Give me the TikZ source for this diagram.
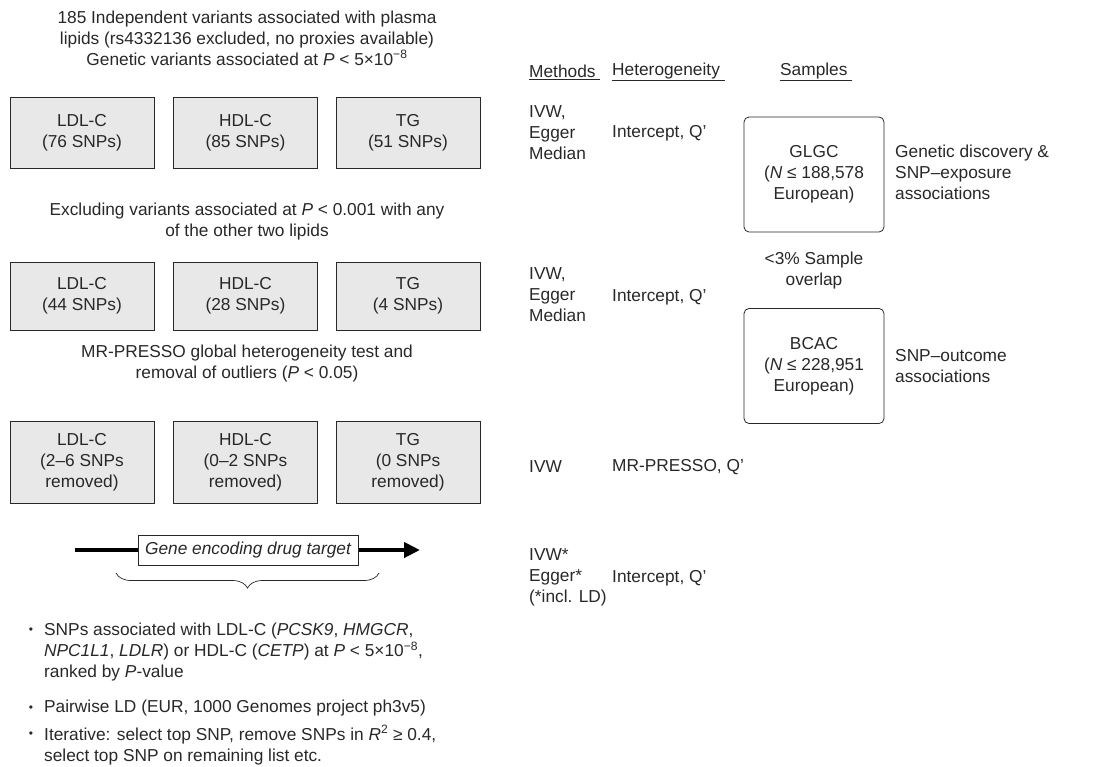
\documentclass[tikz,border=0pt]{standalone}
\usepackage{fontspec}
\setmainfont{Liberation Sans}
\usetikzlibrary{positioning,arrows.meta,decorations.pathreplacing}

\definecolor{boxgray}{RGB}{232,232,232}
\definecolor{inkgray}{RGB}{40,40,40}

\begin{document}
\begin{tikzpicture}[x=1pt,y=-1pt,
  font=\fontsize{17.3}{21}\selectfont,
  every node/.style={text=inkgray},
  lipid/.style={draw=inkgray,fill=boxgray,line width=0.8pt,minimum width=144pt,align=center},
  sample/.style={draw=inkgray,line width=0.8pt,rounded corners=5pt,minimum width=140pt,minimum height=115pt,align=center},
  txt/.style={align=left,anchor=west,inner sep=0pt},
  ctxt/.style={align=center,inner sep=0pt},
  dot/.style={inner sep=0pt,font=\fontsize{12}{12}\selectfont}]
  \useasboundingbox (0,0) rectangle (1116,766);

  % column headers
  \node[txt] (hmeth) at (529,72) {\underline{Methods\ }};
  \node[txt] (hhet) at (612,72) {\underline{Heterogeneity\ }};
  \node[txt] (hsamp) at (780,72) {\underline{Samples\ }};

  % first step
  \node[ctxt] (t1) at (247,38) {185 Independent variants associated with plasma\\
    lipids (rs4332136 excluded, no proxies available)\\
    Genetic variants associated at \textit{P} < 5×10\textsuperscript{−8}};
  \node[lipid,minimum height=71pt] (ldl1) at (82,132.5) {LDL-C\\(76 SNPs)};
  \node[lipid,minimum height=71pt] (hdl1) at (245.5,132.5) {HDL-C\\(85 SNPs)};
  \node[lipid,minimum height=71pt] (tg1) at (408,132.5) {TG\\(51 SNPs)};
  \node[txt] (m1) at (529,133) {IVW,\\Egger\\Median};
  \node[txt] (q1) at (612,133) {Intercept, Q’};

  % second step
  \node[ctxt] (t2) at (247,222) {Excluding variants associated at \textit{P} < 0.001 with any\\
    of the other two lipids};
  \node[lipid,minimum height=68pt] (ldl2) at (82,296) {LDL-C\\(44 SNPs)};
  \node[lipid,minimum height=68pt] (hdl2) at (245.5,296) {HDL-C\\(28 SNPs)};
  \node[lipid,minimum height=68pt] (tg2) at (408,296) {TG\\(4 SNPs)};
  \node[txt] (m2) at (529,295) {IVW,\\Egger\\Median};
  \node[txt] (q2) at (612,297) {Intercept, Q’};

  % third step
  \node[ctxt] (t3) at (247,364) {MR-PRESSO global heterogeneity test and\\
    removal of outliers (\textit{P} < 0.05)};
  \node[lipid,minimum height=82pt] (ldl3) at (82,462) {LDL-C\\(2–6 SNPs\\removed)};
  \node[lipid,minimum height=82pt] (hdl3) at (245.5,462) {HDL-C\\(0–2 SNPs\\removed)};
  \node[lipid,minimum height=82pt] (tg3) at (408,462) {TG\\(0 SNPs\\removed)};
  \node[txt] (m3) at (529,467) {IVW};
  \node[txt] (q3) at (612,467) {MR-PRESSO, Q’};

  % samples
  \node[sample] (glgc) at (814,174.5) {GLGC\\(\textit{N} ≤ 188,578\\European)};
  \node[sample] (bcac) at (814,366) {BCAC\\(\textit{N} ≤ 228,951\\European)};
  \node[ctxt] (ovl) at (814,271) {<3\% Sample\\overlap};
  \node[txt] (sglgc) at (895,172) {Genetic discovery \&\\SNP–exposure\\associations};
  \node[txt] (sbcac) at (895,366) {SNP–outcome\\associations};

  % gene region
  \coordinate (gstart) at (75,550);
  \coordinate (gend) at (420,550);
  \draw[line width=4.5pt,-{Triangle[length=16pt,width=15pt]}] (gstart) -- (gend);
  \node[draw=inkgray,fill=white,line width=0.8pt,minimum width=220pt,minimum height=30pt,font=\fontsize{17.3}{21}\selectfont\itshape] (gene) at (248,550) {Gene encoding drug target};
  \coordinate (bl) at (116,573);
  \coordinate (br) at (379,573);
  \draw[inkgray,line width=0.7pt,decorate,decoration={brace,mirror,amplitude=15pt}] (bl) -- (br);
  \node[txt] (m4) at (529,577) {IVW*\\Egger*\\(*incl. LD)};
  \node[txt] (q4) at (612,578) {Intercept, Q’};

  % notes
  \node[dot] (b1) at (31,631) {\textbullet};
  \node[txt] (n1) at (44,652) {SNPs associated with LDL-C (\textit{PCSK9}, \textit{HMGCR},\\
    \textit{NPC1L1}, \textit{LDLR}) or HDL-C (\textit{CETP}) at \textit{P} < 5×10\textsuperscript{−8},\\
    ranked by \textit{P}-value};
  \node[dot] (b2) at (31,709) {\textbullet};
  \node[txt] (n2) at (44,708) {Pairwise LD (EUR, 1000 Genomes project ph3v5)};
  \node[dot] (b3) at (31,735) {\textbullet};
  \node[txt] (n3) at (44,745) {Iterative: select top SNP, remove SNPs in \textit{R}\textsuperscript{2} ≥ 0.4,\\
    select top SNP on remaining list etc.};
\end{tikzpicture}
\end{document}
